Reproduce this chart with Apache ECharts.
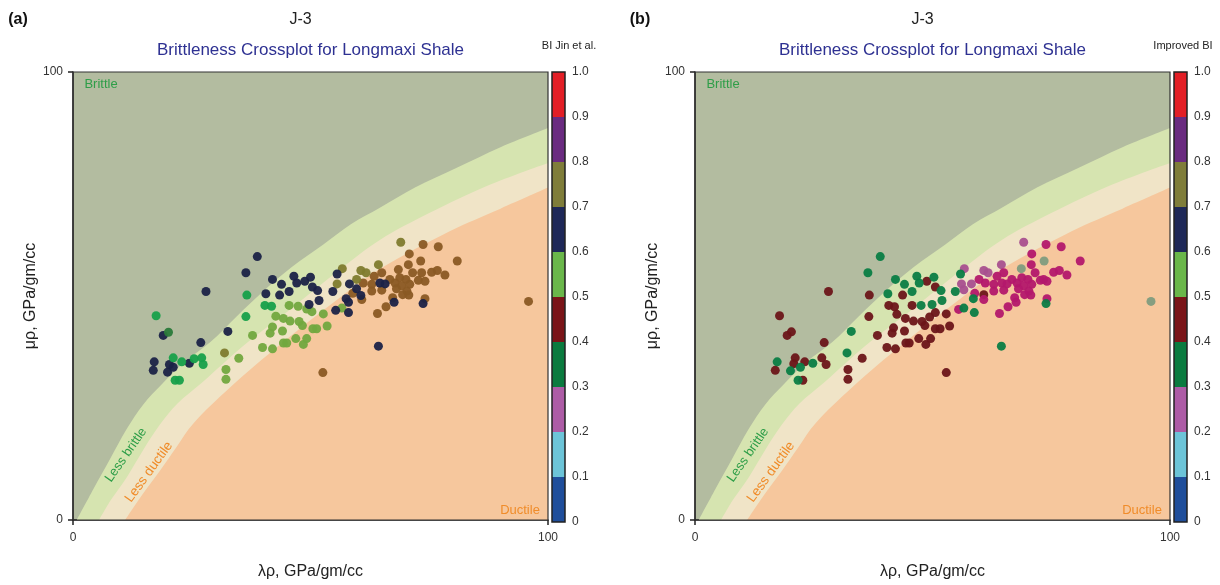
<!DOCTYPE html>
<html>
<head>
<meta charset="utf-8">
<title>Brittleness Crossplot for Longmaxi Shale</title>
<script src="https://cdn.jsdelivr.net/npm/echarts@6/dist/echarts.min.js"></script>
<style>
  html, body { margin: 0; padding: 0; background: #ffffff; }
  #chart { width: 1220px; height: 585px; }
</style>
</head>
<body>
<div id="chart"></div>
<script>
// ---- Template zone boundaries (λρ, μρ) ----
const brittleEdge = [[0.8,0],[4.3,6.9],[7.8,13.6],[11.3,20.3],[14.8,25.8],[18.7,30.3],[23.5,35.3],[28.8,39.6],[34.5,45.5],[40,51],[46,56.4],[52.7,61.5],[58.5,66],[64.6,69.7],[72,74.2],[80.8,78.6],[90,83.2],[100,87.5]];
const lessBrittleEdge = [[5.5,0],[8,4.5],[11.3,9.5],[15,16],[18.3,21.3],[22,26],[27,30.5],[36,39],[46.3,47.5],[56.2,55.9],[64.6,62.5],[75,68.5],[87,74.5],[100,79.7]];
const lessDuctileEdge = [[11,0],[14.5,5.5],[18.3,11],[21.8,16.3],[25.3,21.5],[33,29.5],[44,39.5],[56,49.5],[64.6,56],[79.4,64.5],[90,69.5],[100,74.2]];

// ---- Colour scale bins (BI from 0 to 1) ----
const biTicks = [0, 0.1, 0.2, 0.3, 0.4, 0.5, 0.6, 0.7, 0.8, 0.9, 1.0];
const biColors = ['#1f4e9b','#6cc4d8','#ad5ca6','#0a7b3f','#7a1418','#6ab74a','#1e2858','#7f7d3a','#6a2b80','#e31f26'];

// ---- Panel (a): BI Jin et al. ----
const jinNavy = [[38.8,58.8],[36.4,55.2],[28.0,51.0],[42.0,53.7],[43.9,52.6],[46.5,54.4],[47.1,52.9],[48.8,53.3],[50.0,54.2],[50.4,52.0],[51.5,51.2],[40.6,50.5],[43.5,50.2],[45.5,51.0],[49.7,48.1],[51.8,49.0],[54.7,51.0],[55.3,46.8],[32.6,42.1],[26.9,39.6],[19.0,41.2],[17.1,35.3],[16.9,33.4],[20.3,34.7],[19.9,33.0],[21.1,34.1],[24.5,35.0],[55.6,54.9],[58.2,52.7],[59.7,51.6],[64.6,52.9],[65.7,52.7],[57.5,49.4],[58.0,48.6],[58.0,46.3],[67.6,48.6],[73.7,48.3],[64.3,38.8],[60.6,50.1]];
const jinGreen = [[17.5,45.6],[36.6,50.2],[36.4,45.4],[40.4,47.9],[41.8,47.7],[21.1,36.2],[22.9,35.3],[25.5,36.0],[27.1,36.2],[27.4,34.7],[21.5,31.2],[22.4,31.2]];
const jinDarkGreen = [[20.1,41.9]];
const jinLime = [[45.5,47.9],[47.4,47.7],[49.2,47.1],[42.7,45.5],[44.3,45.0],[45.7,44.4],[47.6,44.3],[48.3,43.4],[50.3,46.5],[52.7,46.0],[42.0,43.1],[41.5,41.7],[44.1,42.2],[37.8,41.2],[39.9,38.5],[42.0,38.2],[44.3,39.5],[45.0,39.5],[46.9,40.5],[48.5,39.2],[49.2,40.5],[50.5,42.7],[51.3,42.7],[53.5,43.3],[34.9,36.1],[32.2,33.6],[32.2,31.4],[56.6,47.3]];
const jinOlive = [[31.9,37.3],[69.0,62.0],[56.7,56.1],[60.6,55.7],[61.7,55.2],[64.3,57.0],[55.6,52.7],[59.7,53.7]];
const jinBrown = [[73.7,61.5],[76.9,61.0],[70.8,59.4],[73.2,57.8],[80.9,57.8],[70.6,57.0],[68.5,55.9],[71.5,55.2],[73.4,55.2],[75.5,55.3],[76.7,55.7],[78.3,54.7],[65.0,55.2],[63.4,54.4],[66.7,53.7],[68.8,54.1],[70.1,53.7],[72.7,53.5],[74.1,53.3],[61.1,52.9],[62.9,52.6],[67.8,52.9],[69.2,52.3],[70.9,52.6],[68.1,51.6],[70.3,51.1],[62.9,51.1],[65.0,51.3],[58.9,50.6],[69.4,50.3],[70.7,50.2],[67.3,49.6],[60.8,49.2],[74.1,49.4],[65.9,47.6],[64.1,46.1],[95.9,48.8],[52.6,32.9]];

// ---- Panel (b): Improved BI ----
const impGreen = [[39.0,58.8],[36.4,55.2],[42.2,53.7],[44.1,52.6],[46.7,54.4],[47.2,52.9],[50.3,54.2],[40.6,50.5],[45.7,51.0],[51.8,51.2],[54.8,51.0],[47.6,47.9],[49.9,48.1],[52.0,49.0],[32.9,42.1],[32.0,37.3],[24.8,35.0],[17.3,35.3],[20.1,33.3],[22.2,34.1],[21.7,31.2],[55.9,54.9],[58.6,49.4],[56.6,47.3],[58.8,46.3],[73.9,48.3],[64.5,38.8]];
const impMaroon = [[28.1,51.0],[36.7,50.2],[36.6,45.4],[17.8,45.6],[20.3,42.0],[19.4,41.2],[27.2,39.6],[43.7,50.2],[48.8,53.3],[50.6,52.0],[40.8,47.9],[42.0,47.6],[45.7,47.9],[42.5,45.9],[44.3,45.0],[46.0,44.4],[47.8,44.3],[48.4,43.4],[49.4,45.3],[50.6,46.3],[52.9,46.0],[41.8,42.9],[41.5,41.7],[44.1,42.2],[38.4,41.2],[40.4,38.5],[42.2,38.2],[44.4,39.5],[45.1,39.5],[47.1,40.5],[48.6,39.2],[49.6,40.5],[50.6,42.7],[51.6,42.7],[53.6,43.3],[35.2,36.1],[32.2,33.6],[32.2,31.4],[26.7,36.2],[27.6,34.7],[23.1,35.3],[21.1,36.2],[16.9,33.4],[20.8,34.9],[52.9,32.9],[22.7,31.2],[60.8,50.3]];
const impMagenta = [[73.9,61.5],[77.1,61.0],[70.9,59.4],[81.1,57.8],[70.8,57.0],[71.6,55.2],[73.4,53.7],[75.5,55.3],[76.7,55.7],[78.3,54.7],[65.0,55.2],[63.6,54.4],[66.7,53.7],[68.8,54.1],[70.1,53.7],[72.7,53.5],[74.1,53.3],[61.1,52.9],[62.9,52.6],[67.8,52.9],[69.2,52.3],[70.9,52.6],[68.1,51.6],[70.3,51.1],[62.9,51.1],[65.0,51.3],[58.9,50.6],[69.4,50.3],[70.7,50.2],[67.3,49.6],[60.8,49.2],[74.1,49.4],[65.9,47.6],[64.1,46.1],[67.6,48.6],[55.5,47.0],[59.8,53.7],[64.6,52.9],[65.7,52.7]];
const impMauve = [[69.2,62.0],[58.2,52.7],[56.7,56.1],[60.8,55.7],[61.7,55.2],[64.5,57.0],[56.1,52.7],[56.6,51.4]];
const impSage = [[73.5,57.8],[68.7,56.1],[96.0,48.8]];

// ---- Styling ----
const FONT = '"Liberation Sans", Arial, sans-serif';
const zoneColors = { brittle: '#b3bca0', lessBrittle: '#d6e4b0', lessDuctile: '#f0e4c7', ductile: '#f6c79d' };
const PLOT_W = 475, PLOT_H = 449, TOP = 72;
const panels = [
  { left: 73, barLeft: 552, scaleNameX: 569, tag: '(a)', scaleName: 'BI Jin et al.',
    groups: [[jinBrown,'#8a5a24'],[jinOlive,'#7e7b2e'],[jinLime,'#72a83f'],[jinNavy,'#1b2247'],[jinGreen,'#17a04a'],[jinDarkGreen,'#2a7a3a']] },
  { left: 695, barLeft: 1174, scaleNameX: 1183, tag: '(b)', scaleName: 'Improved BI',
    groups: [[impMaroon,'#6b1519'],[impMauve,'#a8508f'],[impMagenta,'#b3186b'],[impSage,'#809c7e'],[impGreen,'#0a7d44']] }
];

const grid = [], xAxis = [], yAxis = [], series = [], graphic = [];
const binData = biColors.map((c, i) => [biTicks[i], biTicks[i + 1], i]);

panels.forEach((p) => {
  const gMain = grid.length;
  grid.push({ left: p.left, top: TOP, width: PLOT_W, height: PLOT_H, show: true,
              backgroundColor: zoneColors.brittle, borderWidth: 0 });
  const gBar = grid.length;
  grid.push({ left: p.barLeft, top: TOP, width: 13, height: PLOT_H + 1, show: false });

  const axisLabel = { color: '#333', fontFamily: FONT, fontSize: 12 };
  xAxis.push({ gridIndex: gMain, type: 'value', min: 0, max: 100, interval: 100,
    name: 'λρ, GPa/gm/cc', nameLocation: 'middle', nameGap: 44,
    nameTextStyle: { color: '#222', fontFamily: FONT, fontSize: 16 },
    axisLine: { show: true, lineStyle: { color: '#222', width: 1.5 } },
    axisTick: { show: true, length: 5, lineStyle: { color: '#222', width: 1.5 } },
    axisLabel: Object.assign({ margin: 12 }, axisLabel), splitLine: { show: false } });
  yAxis.push({ gridIndex: gMain, type: 'value', min: 0, max: 100, interval: 100,
    name: 'μρ, GPa/gm/cc', nameLocation: 'middle', nameGap: 30, nameRotate: 90,
    nameTextStyle: { color: '#222', fontFamily: FONT, fontSize: 16 },
    axisLine: { show: true, lineStyle: { color: '#222', width: 1.5 } },
    axisTick: { show: true, length: 5, lineStyle: { color: '#222', width: 1.5 } },
    axisLabel: Object.assign({ margin: 10 }, axisLabel), splitLine: { show: false } });
  xAxis.push({ gridIndex: gBar, type: 'value', min: 0, max: 1, show: false });
  yAxis.push({ gridIndex: gBar, type: 'value', min: 0, max: 1, interval: 0.1, position: 'right',
    axisLine: { show: false }, axisTick: { show: false }, splitLine: { show: false },
    axisLabel: Object.assign({ margin: 7, formatter: v => v === 0 ? '0' : v.toFixed(1) }, axisLabel) });

  const xi = xAxis.length - 2, yi = yAxis.length - 2;
  // zone fills, each one the area beneath its boundary
  [[brittleEdge, zoneColors.lessBrittle], [lessBrittleEdge, zoneColors.lessDuctile], [lessDuctileEdge, zoneColors.ductile]]
    .forEach(([edge, color], j) => {
      series.push({ type: 'line', xAxisIndex: xi, yAxisIndex: yi, data: edge, smooth: 0.35,
        symbol: 'none', silent: true, z: 1 + j * 0.1, lineStyle: { width: 0 },
        areaStyle: { color: color, opacity: 1 }, animation: false });
    });
  // plot frame
  series.push({ type: 'custom', xAxisIndex: xi, yAxisIndex: yi, data: [[0, 0, 100, 100]], silent: true, z: 6,
    renderItem: (params, api) => {
      const a = api.coord([api.value(0), api.value(1)]);
      const b = api.coord([api.value(2), api.value(3)]);
      return { type: 'rect', shape: { x: a[0], y: b[1], width: b[0] - a[0], height: a[1] - b[1] },
               style: { fill: 'none', stroke: '#333', lineWidth: 1.2 } };
    }, animation: false });
  // data points
  p.groups.forEach(([pts, color]) => {
    series.push({ type: 'scatter', xAxisIndex: xi, yAxisIndex: yi, data: pts, symbolSize: 9,
      itemStyle: { color: color, opacity: 0.95 }, z: 4, animation: false });
  });
  // colour scale
  series.push({ type: 'custom', xAxisIndex: xi + 1, yAxisIndex: yi + 1, data: binData, silent: true, z: 3,
    renderItem: (params, api) => {
      const lo = api.coord([0, api.value(0)]);
      const hi = api.coord([1, api.value(1)]);
      return { type: 'rect', shape: { x: lo[0], y: hi[1], width: hi[0] - lo[0], height: lo[1] - hi[1] },
               style: { fill: biColors[api.value(2)] } };
    }, animation: false });
  series.push({ type: 'custom', xAxisIndex: xi + 1, yAxisIndex: yi + 1, data: [[0, 1]], silent: true, z: 5,
    renderItem: (params, api) => {
      const lo = api.coord([0, api.value(0)]);
      const hi = api.coord([1, api.value(1)]);
      return { type: 'rect', shape: { x: lo[0], y: hi[1], width: hi[0] - lo[0], height: lo[1] - hi[1] },
               style: { fill: 'none', stroke: '#222', lineWidth: 1.5 } };
    }, animation: false });

  // headings and zone names
  const cx = p.left + PLOT_W / 2;
  const txt = (x, y, text, font, fill, extra) => graphic.push(Object.assign({ type: 'text', x, y, z: 20, silent: true,
    style: { text, font, fill, textAlign: 'center', textVerticalAlign: 'middle' } }, extra || {}));
  txt(p.left - 55, 20, p.tag, 'bold 16px ' + FONT, '#111');
  txt(cx - 10, 20, 'J-3', '16px ' + FONT, '#222');
  txt(cx, 50, 'Brittleness Crossplot for Longmaxi Shale', '17px ' + FONT, '#2e3192');
  txt(p.scaleNameX, 46, p.scaleName, '11px ' + FONT, '#222');
  txt(p.left + 28, 84, 'Brittle', '13px ' + FONT, '#2e9e48');
  txt(p.left + 447, 510, 'Ductile', '13px ' + FONT, '#f08c2a');
  txt(p.left + 53, 455, 'Less brittle', '13px ' + FONT, '#2e9e48', { rotation: 55 * Math.PI / 180 });
  txt(p.left + 76, 472, 'Less ductile', '13.5px ' + FONT, '#f08c2a', { rotation: 54 * Math.PI / 180 });
});

const chart = echarts.init(document.getElementById('chart'), null, { renderer: 'canvas' });
chart.setOption({
  animation: false,
  backgroundColor: '#ffffff',
  grid, xAxis, yAxis, series, graphic
});
</script>
</body>
</html>
